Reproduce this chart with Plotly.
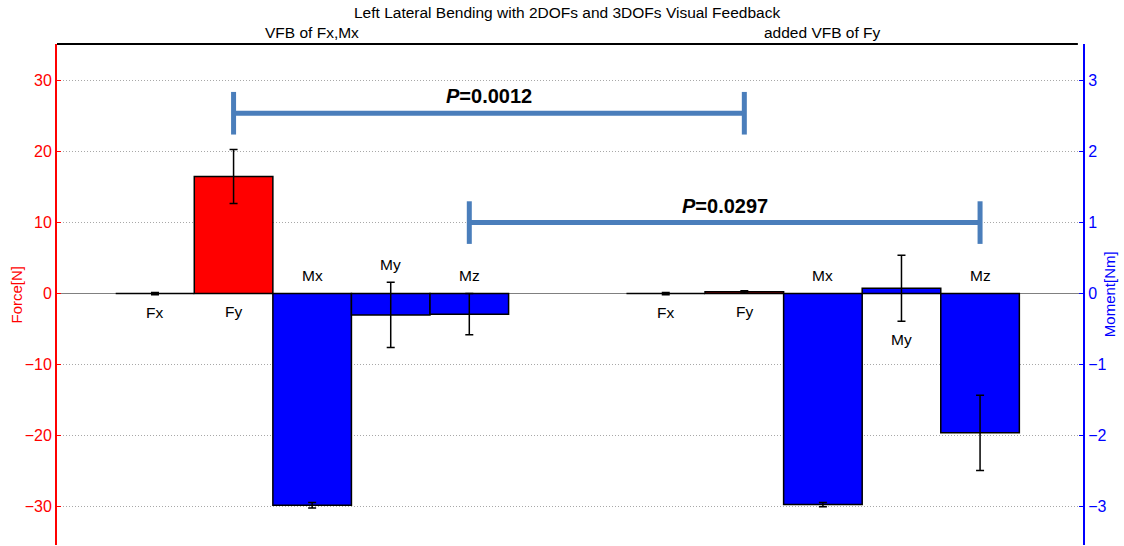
import numpy as np
import plotly.graph_objects as go

# Left lateral bending, mean +- SD, forces in N and moments in Nm
labels = ["Fx", "Fy", "Mx", "My", "Mz"]
group_names = ["VFB of Fx,Mx", "added VFB of Fy"]

force_2dof = [0.0, 16.5]
force_2dof_err = [0.15, 3.8]
moment_2dof = [-2.98, -0.30, -0.29]
moment_2dof_err = [0.04, 0.46, 0.29]

force_3dof = [0.0, 0.25]
force_3dof_err = [0.15, 0.15]
moment_3dof = [-2.97, 0.075, -1.96]
moment_3dof_err = [0.03, 0.465, 0.53]

p_values = ["0.0012", "0.0297"]
p_levels = [25.4, 10.0]   # bracket height on force axis
force_ticks = [-30, -20, -10, 0, 10, 20, 30]
moment_ticks = [-3, -2, -1, 0, 1, 2, 3]

# bar centres: 5 per group, second group shifted
x1 = np.arange(1, 6)
x2 = 7.5 + np.arange(5)
groups = [
    (x1, force_2dof, force_2dof_err, moment_2dof, moment_2dof_err),
    (x2, force_3dof, force_3dof_err, moment_3dof, moment_3dof_err),
]

fig = go.Figure()
bar_line = dict(color="black", width=1.5)
err_style = dict(type="data", color="black", thickness=1.5, width=4)

for xs, f, fe, m, me in groups:
    fig.add_trace(go.Bar(x=xs[:2], y=f, width=1, marker=dict(color="#FF0000", line=bar_line),
                         error_y=dict(array=fe, **err_style), yaxis="y", showlegend=False))
    fig.add_trace(go.Bar(x=xs[2:], y=m, width=1, marker=dict(color="#0000FF", line=bar_line),
                         error_y=dict(array=me, **err_style), yaxis="y2", showlegend=False))

# bar name labels: above zero for negative bars, below for the rest, clear of error bars
for xs, f, fe, m, me in groups:
    vals = list(f) + [v * 10 for v in m]
    errs = list(fe) + [e * 10 for e in me]
    for x, v, e, name in zip(xs, vals, errs, labels):
        if v < 0:
            y, shift = max(0, v + e), 18
        else:
            y, shift = min(0, v - e), -18
        fig.add_annotation(x=x, y=y, text=name, showarrow=False, yshift=shift,
                           font=dict(size=15.5, color="black"))

# significance brackets
steel = "#4A7EBB"
pairs = [(x1[1], x2[1]), (x1[4], x2[4])]
for (a, b), lvl, p in zip(pairs, p_levels, p_values):
    fig.add_shape(type="line", x0=a, x1=b, y0=lvl, y1=lvl, line=dict(color=steel, width=5))
    for xx in (a, b):
        fig.add_shape(type="line", x0=xx, x1=xx, y0=lvl - 3.0, y1=lvl + 3.0,
                      line=dict(color=steel, width=5))
    fig.add_annotation(x=(a + b) / 2, y=lvl, text=f"<b><i>P</i>=" + p + "</b>", showarrow=False,
                       yshift=17, font=dict(size=20, color="black", family="Liberation Sans"))

# title and group headings
fig.add_annotation(x=0.497, y=1.062, xref="paper", yref="paper", showarrow=False,
                   yanchor="middle", text="Left Lateral Bending with 2DOFs and 3DOFs Visual Feedback",
                   font=dict(size=15.5, color="black"))
for xs, g in zip([x1, x2], group_names):
    fig.add_annotation(x=xs.mean(), y=1.022, yref="paper", yanchor="middle", text=g,
                       showarrow=False, font=dict(size=15.5, color="black"))

# top frame line
fig.add_shape(type="line", xref="paper", yref="paper", x0=0, x1=0.995, y0=1, y1=1,
              line=dict(color="black", width=2))

fig.add_annotation(x=-0.039, y=0.5, xref="paper", yref="paper", text="Force[N]", textangle=-90,
                   xanchor="center", showarrow=False, font=dict(size=15, color="#FF0000"))
fig.add_annotation(x=1.026, y=0.5, xref="paper", yref="paper", text="Moment[Nm]", textangle=-90,
                   xanchor="center", showarrow=False, font=dict(size=15, color="#0000FF"))

fig.update_layout(
    width=1124, height=546,
    margin=dict(l=57, r=41, t=44, b=1, autoexpand=False),
    plot_bgcolor="white", paper_bgcolor="white",
    barmode="overlay",
    font=dict(family="Liberation Sans, Arial", size=14),
    xaxis=dict(range=[-0.247, 12.81], showticklabels=False, ticks="", showgrid=False,
               zeroline=False, showline=False),
    yaxis=dict(range=[-35.4, 35.15], tickvals=force_ticks, tickfont=dict(color="#FF0000", size=16),
               showline=True, linecolor="#FF0000", linewidth=2, ticks="inside", ticklen=4,
               tickcolor="#FF0000", showgrid=True, gridcolor="#A8A8A8", griddash="1px,2px",
               gridwidth=1, zeroline=True, zerolinecolor="#808080", zerolinewidth=1),
    yaxis2=dict(range=[-3.54, 3.515], tickvals=moment_ticks, tickfont=dict(color="#0000FF", size=16),
                overlaying="y", side="right", showline=True, linecolor="#0000FF", linewidth=2,
                ticks="inside", ticklen=4, tickcolor="#0000FF", showgrid=False, zeroline=False),
)

# drop the default page margin so the figure sits at the window's corner
fig.write_html("out.html", config={"displayModeBar": False},
               post_script="document.body.style.margin='0';")
